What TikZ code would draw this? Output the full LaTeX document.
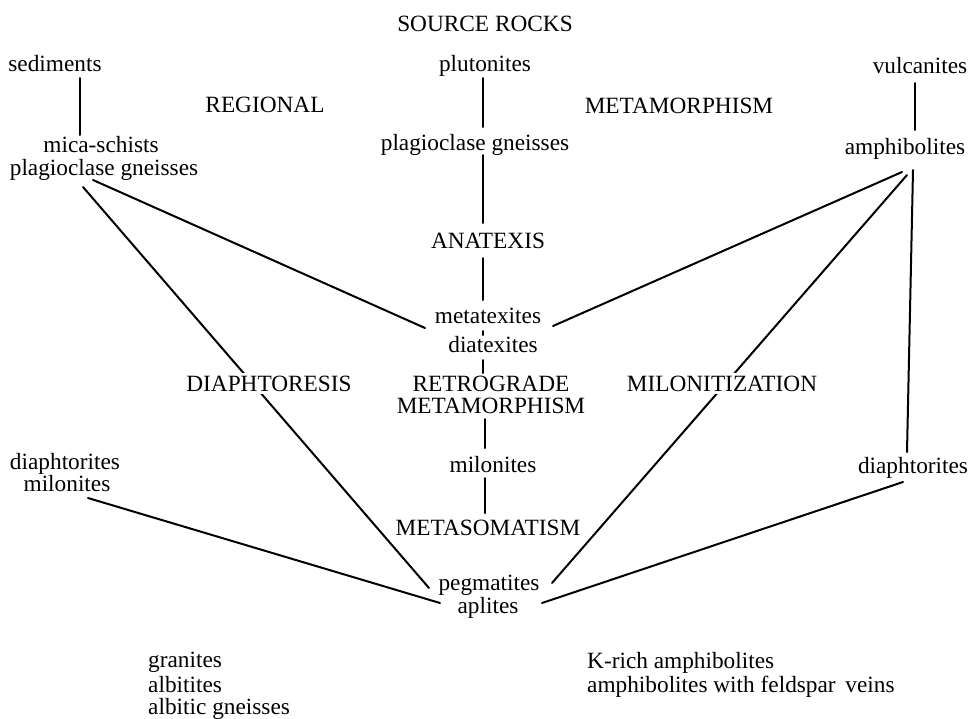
\documentclass[tikz,border=0pt]{standalone}
\usepackage{fontspec}
\setmainfont{Liberation Serif}
\usetikzlibrary{calc}
\tikzset{
  lbl/.style={anchor=base, inner sep=0pt, font=\fontsize{23.3}{23.3}\selectfont},
  lblw/.style={lbl, anchor=base west},
  cut/.style={lbl, fill=white, inner sep=3pt},
  conn/.style={line width=2pt, line cap=round}
}
\begin{document}
\begin{tikzpicture}[x=1pt,y=-1pt]
\useasboundingbox (0,0) rectangle (974,718);
% labels
\node[lbl] (src)  at (485,31)  {SOURCE ROCKS};
\node[lbl] (sed)  at (55,71)   {sediments};
\node[lbl] (plut) at (485,71)  {plutonites};
\node[lbl] (vul)  at (920,73)  {vulcanites};
\node[lbl] (reg)  at (265,112) {REGIONAL};
\node[lbl] (metaA) at (679,113) {METAMORPHISM};
\node[lbl] (mica) at (101,152) {mica-schists};
\node[lbl] (plagL) at (104,175) {plagioclase gneisses};
\node[lbl] (plagC) at (475,150) {plagioclase gneisses};
\node[lbl] (amph) at (905,154) {amphibolites};
\node[lbl] (anat) at (488,248) {ANATEXIS};
\node[lbl] (mtx)  at (488,323) {metatexites};
\node[lbl] (dtx)  at (493,352) {diatexites};
\node[lbl] (retro) at (491,391) {RETROGRADE};
\node[lbl] (metaB) at (491,413) {METAMORPHISM};
\node[lbl] (diL)  at (65,469)  {diaphtorites};
\node[lbl] (milL) at (67,491)  {milonites};
\node[lbl] (milC) at (493,472) {milonites};
\node[lbl] (diR)  at (913,473) {diaphtorites};
\node[lbl] (msm)  at (488,535) {METASOMATISM};
\node[lbl] (peg)  at (489,590) {pegmatites};
\node[lbl] (apl)  at (488,613) {aplites};
\node[lblw] (gran) at (148,667) {granites};
\node[lblw] (albt) at (148,692) {albitites};
\node[lblw] (albg) at (148,714) {albitic gneisses};
\node[lblw] (krich) at (587,668) {K-rich amphibolites};
\node[lblw] (amfv) at (587,692) {amphibolites with feldspar\, veins};
% connectors
\draw[conn] ($(sed.base)+(25,7)$) -- ($(mica.base)+(-21,-17)$);
\draw[conn] ($(plut.base)+(-2,7)$) -- ($(plagC.base)+(8,-23)$);
\draw[conn] ($(plagC.base)+(8,5)$) -- ($(anat.base)+(-5,-25)$);
\draw[conn] ($(anat.base)+(-5,10)$) -- ($(mtx.base)+(-5,-23)$);
\draw[conn] ($(mtx.base)+(-5,8)$) -- ($(dtx.base)+(-10,-17)$);
\draw[conn] ($(dtx.base)+(-10,8)$) -- ($(retro.base)+(-8,-18)$);
\draw[conn] ($(metaB.base)+(-6,6)$) -- ($(milC.base)+(-8,-24)$);
\draw[conn] ($(milC.base)+(-8,6)$) -- ($(msm.base)+(-3,-22)$);
\draw[conn] ($(vul.base)+(-5,10)$) -- ($(amph.base)+(10,-24)$);
\draw[conn] ($(amph.base)+(8,16)$) -- ($(diR.base)+(-6,-21)$);
\draw[conn] ($(amph.base)+(-3,18)$) -- ($(mtx.base)+(65,3)$);
\draw[conn] ($(amph.base)+(2,21)$) -- ($(peg.base)+(63,-7)$);
\draw[conn] ($(plagL.base)+(-11,5)$) -- ($(mtx.base)+(-63,5)$);
\draw[conn] ($(plagL.base)+(-21,12)$) -- ($(peg.base)+(-60,-2)$);
\draw[conn] ($(milL.base)+(21,7)$) -- ($(apl.base)+(-48,-10)$);
\draw[conn] ($(diR.base)+(-10,9)$) -- ($(apl.base)+(54,-10)$);
% labels that interrupt lines
\node[cut] (diaph) at (269,391) {DIAPHTORESIS};
\node[cut] (milz) at (722,391) {MILONITIZATION};
\end{tikzpicture}
\end{document}
